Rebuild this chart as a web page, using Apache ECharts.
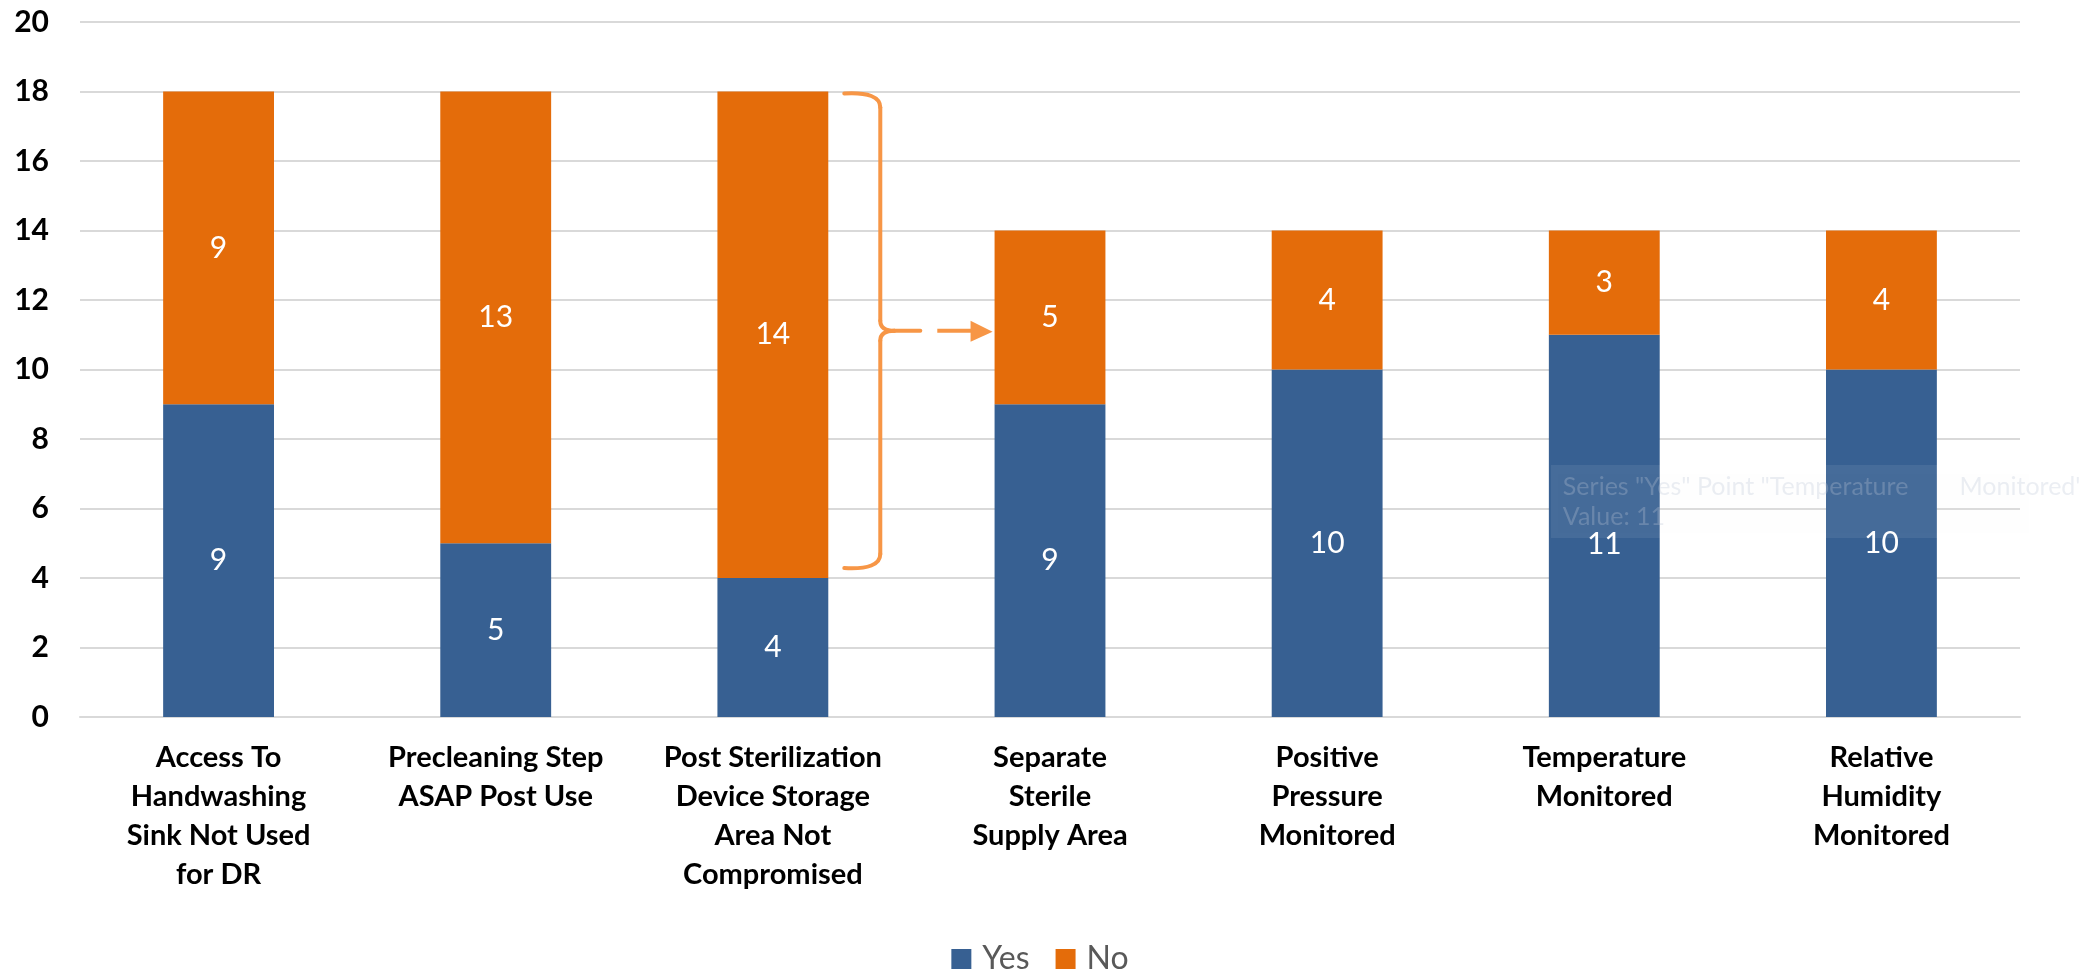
<!DOCTYPE html>
<html>
<head>
<meta charset="utf-8">
<script src="https://cdn.jsdelivr.net/npm/echarts@6/dist/echarts.min.js"></script>
<style>
html,body{margin:0;padding:0;background:#fff;}
#chart{width:2080px;height:972px;}
</style>
</head>
<body>
<div id="chart"></div>
<script>
const categories = [
  'Access To\nHandwashing\nSink Not Used\nfor DR',
  'Precleaning Step\nASAP Post Use',
  'Post Sterilization\nDevice Storage\nArea Not\nCompromised',
  'Separate\nSterile\nSupply Area',
  'Positive\nPressure\nMonitored',
  'Temperature\nMonitored',
  'Relative\nHumidity\nMonitored'
];
const yesValues = [9, 5, 4, 9, 10, 11, 10];
const noValues = [9, 13, 14, 5, 4, 3, 4];
const yTicks = { min: 0, max: 20, interval: 2 };
const tooltipLines = ['Series "Yes" Point "Temperature        Monitored"', 'Value: 11'];
const hoveredIndex = 5;

const BLUE = '#376092';
const ORANGE = '#E46C0A';
const ACCENT = '#F79646';
const FONT = 'Lato';

const chart = echarts.init(document.getElementById('chart'), null, { renderer: 'canvas' });

const labelStyle = {
  show: true,
  position: 'inside',
  color: '#ffffff',
  fontFamily: FONT,
  fontSize: 30
};

const yesData = yesValues.map((v, i) =>
  i === hoveredIndex ? { value: v, label: { offset: [0, 18] } } : v
);

chart.setOption({
  animation: false,
  backgroundColor: '#ffffff',
  grid: { left: 80, right: 60, top: 22, bottom: 255, containLabel: false },
  legend: {
    data: ['Yes', 'No'],
    top: 938,
    left: 'center',
    icon: 'rect',
    itemWidth: 20,
    itemHeight: 20,
    itemGap: 26,
    textStyle: { color: '#595959', fontSize: 32, fontFamily: FONT, padding: [0, 0, 0, 6] }
  },
  xAxis: {
    type: 'category',
    data: categories,
    axisLine: { show: true, lineStyle: { color: '#d9d9d9', width: 2 } },
    axisTick: { show: false },
    axisLabel: {
      interval: 0,
      margin: 21,
      color: '#000000',
      fontFamily: FONT,
      fontWeight: 'bold',
      fontSize: 29,
      lineHeight: 39
    }
  },
  yAxis: {
    type: 'value',
    min: yTicks.min,
    max: yTicks.max,
    interval: yTicks.interval,
    axisLine: { show: false },
    axisTick: { show: false },
    splitLine: { lineStyle: { color: '#d9d9d9', width: 2 } },
    axisLabel: {
      margin: 31,
      color: '#000000',
      fontFamily: FONT,
      fontWeight: 'bold',
      fontSize: 30
    }
  },
  series: [
    {
      name: 'Yes',
      type: 'bar',
      stack: 'total',
      barWidth: '40%',
      data: yesData,
      itemStyle: { color: BLUE },
      label: labelStyle
    },
    {
      name: 'No',
      type: 'bar',
      stack: 'total',
      barWidth: '40%',
      data: noValues,
      itemStyle: { color: ORANGE },
      label: labelStyle
    }
  ]
});

// Annotation: bracket around the 3rd bar's "No" segment with a dashed arrow to the 4th bar
function px(ci, v) { return chart.convertToPixel({ gridIndex: 0 }, [ci, v]); }
const bandW = px(1, 0)[0] - px(0, 0)[0];
const halfBar = bandW * 0.2;
const c3 = px(2, 0)[0];
const yTop = px(2, yesValues[2] + noValues[2])[1] + 2;
const yBot = px(2, yesValues[2])[1] - 10;
const yMid = (yTop + yBot) / 2;
const xStart = c3 + halfBar + 16;
const xV = c3 + halfBar + 52;
const xNub = xV + 40;
const x4Left = px(3, 0)[0] - halfBar - 2;

const stroke = { stroke: ACCENT, lineWidth: 4, lineCap: 'round', fill: null };

const tipX = px(hoveredIndex, 0)[0] - halfBar + 2;
const tipY = px(hoveredIndex, 7.25)[1];

chart.setOption({
  graphic: [
    { type: 'bezierCurve', z: 100, style: stroke,
      shape: { x1: xStart, y1: yTop, cpx1: xV, cpy1: yTop - 2, x2: xV, y2: yTop + 14 } },
    { type: 'line', z: 100, style: stroke,
      shape: { x1: xV, y1: yTop + 14, x2: xV, y2: yMid - 10 } },
    { type: 'bezierCurve', z: 100, style: stroke,
      shape: { x1: xV, y1: yMid - 10, cpx1: xV, cpy1: yMid, x2: xV + 14, y2: yMid } },
    { type: 'bezierCurve', z: 100, style: stroke,
      shape: { x1: xV, y1: yMid + 10, cpx1: xV, cpy1: yMid, x2: xV + 14, y2: yMid } },
    { type: 'line', z: 100, style: stroke,
      shape: { x1: xV + 14, y1: yMid, x2: xNub, y2: yMid } },
    { type: 'line', z: 100, style: stroke,
      shape: { x1: xV, y1: yMid + 10, x2: xV, y2: yBot - 14 } },
    { type: 'bezierCurve', z: 100, style: stroke,
      shape: { x1: xV, y1: yBot - 14, cpx1: xV, cpy1: yBot + 2, x2: xStart, y2: yBot } },
    { type: 'line', z: 100, style: { stroke: ACCENT, lineWidth: 4 },
      shape: { x1: xNub + 17, y1: yMid, x2: x4Left - 20, y2: yMid } },
    { type: 'polygon', z: 100, style: { fill: ACCENT },
      shape: { points: [[x4Left - 22, yMid - 10], [x4Left, yMid + 1], [x4Left - 22, yMid + 11]] } },
    { type: 'rect', z: 100,
      shape: { x: tipX, y: tipY, width: 485, height: 73 },
      style: { fill: 'rgba(255,255,255,0.08)', shadowBlur: 6, shadowColor: 'rgba(0,0,0,0.03)', shadowOffsetY: 2 } },
    { type: 'text', z: 101, x: tipX + 12, y: tipY + 7,
      style: {
        text: tooltipLines.join('\n'),
        fill: 'rgba(190,200,215,0.3)',
        font: '25px "Lato"',
        lineHeight: 30
      } }
  ]
});
</script>
</body>
</html>
